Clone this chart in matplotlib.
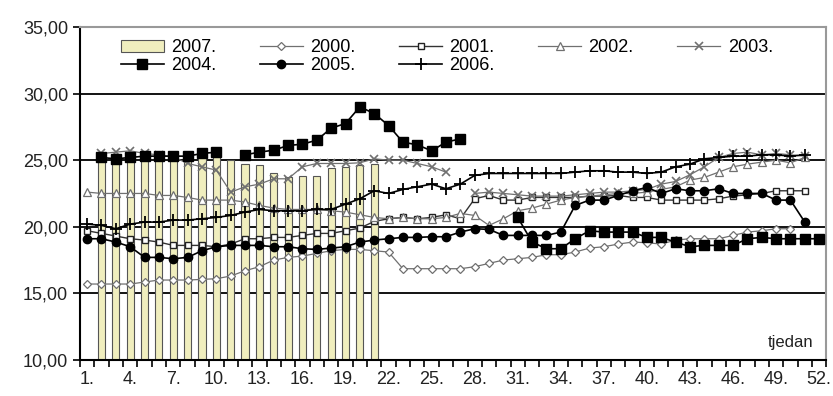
import numpy as np
import matplotlib
matplotlib.use("Agg")
import matplotlib.pyplot as plt

plt.rcParams['font.family'] = ['Liberation Sans', 'DejaVu Sans']

nan = np.nan
weeks = np.arange(1, 53)
week_labels = [f"{w}." for w in range(1, 53, 3)]
y_ticks = [10, 15, 20, 25, 30, 35]

# 2007. (bars), weeks 1-21
y2007 = [nan, 25.4, 25.3, 25.3, 25.3, 25.3, 25.3, 25.2, 25.2, 25.3, 25.0,
         24.7, 24.6, 24.0, 23.7, 23.8, 23.8, 24.4, 24.5, 24.6, 24.7]

y2000 = [15.7, 15.7, 15.7, 15.7, 15.85, 16.0, 16.0, 16.0, 16.05, 16.1,
         16.3, 16.7, 17.0, 17.5, 17.7, 17.8, 18.0, 18.2, 18.3, 18.3,
         18.2, 18.1, 16.85, 16.85, 16.85, 16.85, 16.85, 17.0, 17.25, 17.5,
         17.6, 17.7, 17.9, 17.9, 18.1, 18.4, 18.5, 18.7, 18.85, 18.8,
         18.7, 19.0, 19.1, 19.1, 19.1, 19.35, 19.6, 19.7, 19.85, 19.85,
         nan, nan]
y2001 = [19.7, 19.5, 19.3, 19.1, 19.0, 18.85, 18.6, 18.6, 18.6, 18.5,
         18.7, 19.1, 19.1, 19.2, 19.2, 19.35, 19.5, 19.5, 19.7, 19.9,
         20.4, 20.6, 20.7, 20.6, 20.7, 20.9, 20.6, 22.1, 22.35, 22.0,
         22.0, 22.2, 22.2, 22.2, 22.2, 22.3, 22.3, 22.35, 22.2, 22.2,
         22.0, 22.0, 22.0, 22.0, 22.1, 22.3, 22.4, 22.5, 22.7, 22.7,
         22.7, nan]
y2002 = [22.6, 22.5, 22.5, 22.5, 22.5, 22.35, 22.35, 22.2, 22.0, 22.0,
         22.0, 21.85, 21.6, 21.4, 21.3, 21.3, 21.3, 21.2, 21.1, 20.9,
         20.7, 20.6, 20.7, 20.6, 20.6, 20.7, 21.0, 20.85, 20.1, 20.6,
         21.2, 21.4, 21.7, 22.0, 22.2, 22.3, 22.4, 22.5, 22.5, 22.6,
         22.8, 23.0, 23.5, 23.7, 24.1, 24.5, 24.7, 24.85, 25.0, 24.8,
         25.2, nan]
y2003 = [nan, 25.5, 25.6, 25.7, 25.5, 25.4, 25.25, 24.75, 24.5, 24.25,
         22.6, 23.0, 23.2, 23.6, 23.6, 24.5, 24.75, 24.75, 24.75, 24.8,
         25.1, 25.0, 25.0, 24.75, 24.5, 24.1, nan, 22.5, 22.6, 22.5,
         22.4, 22.3, 22.3, 22.3, 22.4, 22.5, 22.6, 22.6, 22.7, 22.8,
         23.2, 23.4, 23.9, 24.5, 25.2, 25.5, 25.6, 25.4, 25.5, 25.4,
         25.3, nan]
y2004 = [nan, 25.2, 25.1, 25.2, 25.3, 25.3, 25.3, 25.3, 25.5, 25.6,
         nan, 25.4, 25.6, 25.75, 26.1, 26.2, 26.5, 27.4, 27.75, 29.0,
         28.5, 27.6, 26.35, 26.15, 25.7, 26.35, 26.6, nan, nan, nan,
         20.7, 18.85, 18.35, 18.35, 19.1, 19.7, 19.6, 19.6, 19.6, 19.2,
         19.2, 18.85, 18.5, 18.6, 18.6, 18.6, 19.1, 19.2, 19.1, 19.1,
         19.1, 19.1]
y2005 = [19.1, 19.1, 18.85, 18.5, 17.7, 17.7, 17.6, 17.7, 18.2, 18.5,
         18.6, 18.6, 18.6, 18.5, 18.5, 18.35, 18.3, 18.4, 18.5, 18.85,
         19.0, 19.1, 19.2, 19.2, 19.25, 19.25, 19.6, 19.85, 19.8, 19.35,
         19.35, 19.35, 19.35, 19.6, 21.6, 22.0, 22.0, 22.35, 22.7, 22.95,
         22.5, 22.85, 22.7, 22.7, 22.85, 22.5, 22.5, 22.5, 22.0, 22.0,
         20.35, nan]
y2006 = [20.2, 20.1, 19.85, 20.2, 20.35, 20.35, 20.5, 20.5, 20.6, 20.7,
         20.85, 21.1, 21.3, 21.2, 21.2, 21.2, 21.3, 21.3, 21.7, 22.1,
         22.7, 22.5, 22.8, 23.0, 23.2, 22.85, 23.2, 23.85, 24.0, 24.0,
         24.0, 24.0, 24.0, 24.0, 24.1, 24.2, 24.2, 24.1, 24.1, 24.0,
         24.1, 24.5, 24.7, 25.1, 25.2, 25.3, 25.3, 25.4, 25.4, 25.3,
         25.4, nan]

fig = plt.figure(figsize=(8.33, 3.96), dpi=100)
ax = fig.add_axes([0.096, 0.091, 0.896, 0.841])

bars = ax.bar(weeks[:len(y2007)], y2007, width=0.5, bottom=0,
              color='#f0eebe', edgecolor='#555555', linewidth=0.8,
              label='2007.', zorder=2)

gray = '#707070'
l2000, = ax.plot(weeks, y2000, color=gray, lw=0.9, marker='D', ms=4,
                 mfc='white', mec=gray, mew=0.9, label='2000.', zorder=3)
l2001, = ax.plot(weeks, y2001, color='#333333', lw=1.0, marker='s', ms=5,
                 mfc='white', mec='#222222', mew=1.0, label='2001.', zorder=3)
l2002, = ax.plot(weeks, y2002, color=gray, lw=0.9, marker='^', ms=5.5,
                 mfc='white', mec=gray, mew=0.9, label='2002.', zorder=3)
l2003, = ax.plot(weeks, y2003, color=gray, lw=0.9, marker='x', ms=6,
                 mec=gray, mew=1.2, label='2003.', zorder=3)
l2004, = ax.plot(weeks, y2004, color='black', lw=1.2, marker='s', ms=6.5,
                 mfc='black', mec='black', label='2004.', zorder=4)
l2005, = ax.plot(weeks, y2005, color='black', lw=1.2, marker='o', ms=6,
                 mfc='black', mec='black', label='2005.', zorder=4)
l2006, = ax.plot(weeks, y2006, color='black', lw=1.2, marker='+', ms=9,
                 mec='black', mew=1.3, label='2006.', zorder=4)

ax.set_xlim(0.5, 52.5)
ax.set_ylim(10, 35)
ax.set_yticks(y_ticks)
ax.set_yticklabels([f"{v:.2f}".replace('.', ',') for v in y_ticks],
                   fontsize=13, color='#222222')
ax.set_xticks(range(1, 53, 3))
ax.set_xticklabels(week_labels, fontsize=13, color='#222222')
ax.set_xticks(np.arange(0.5, 53, 1), minor=True)
ax.tick_params(axis='x', which='major', length=0, pad=8)
ax.tick_params(axis='x', which='minor', length=5, width=1.2, direction='out')
ax.tick_params(axis='y', length=5, width=1.2, direction='out')

for v in [15, 20, 25, 30]:
    ax.axhline(v, color='black', lw=1.3, zorder=1)
ax.set_axisbelow(True)

for s in ['left', 'bottom']:
    ax.spines[s].set_color('black')
    ax.spines[s].set_linewidth(1.5)
for s in ['top', 'right']:
    ax.spines[s].set_color('#999999')
    ax.spines[s].set_linewidth(1.5)

ax.text(51.6, 11.3, 'tjedan', fontsize=12, ha='right', va='center',
        color='#222222')

handles = [bars, l2004, l2000, l2005, l2001, l2006, l2002, l2003]
ax.legend(handles=handles, labels=[h.get_label() for h in handles],
          ncol=5, loc='upper left', bbox_to_anchor=(0.045, 0.985),
          frameon=False, fontsize=13, handlelength=2.4, handletextpad=0.4,
          columnspacing=2.4, labelspacing=0.05, borderaxespad=0)

fig.savefig('out.png', dpi=100)
